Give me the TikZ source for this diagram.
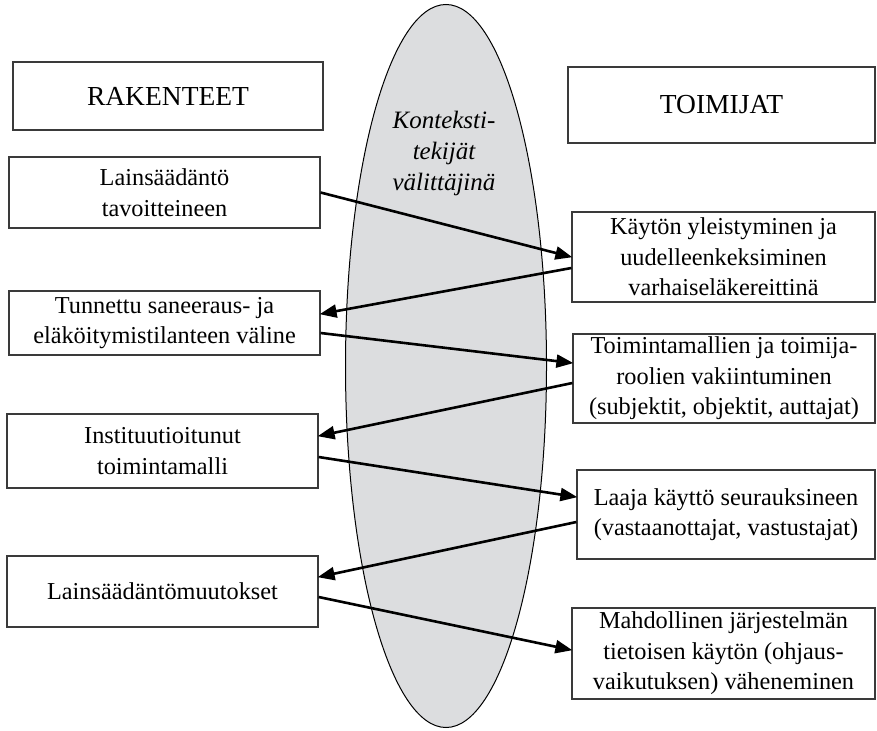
\documentclass[tikz,border=0pt]{standalone}
\usepackage{fontspec}
\setmainfont{Liberation Serif}
\usetikzlibrary{arrows.meta,shapes.geometric}
\definecolor{ellgray}{HTML}{DCDDDF}
\definecolor{boxline}{HTML}{3A3A3A}
\tikzset{
  box/.style={draw=boxline, line width=1.2pt, fill=white, align=center, inner sep=2pt,
    font=\fontsize{24.3}{30.5}\selectfont},
  headbox/.style={box, font=\fontsize{27.5}{30}\selectfont},
  conn/.style={line width=2.6pt, -{Triangle[length=17pt,width=13pt]}, shorten >=-1pt}
}
\begin{document}
\begin{tikzpicture}[x=1pt,y=-1pt]
\useasboundingbox (0,0) rectangle (877,730);
% ellipse
\node[draw=black, line width=1pt, fill=ellgray, ellipse, inner sep=0pt,
  minimum width=201pt, minimum height=723pt] (ell) at (446,366) {};
\node[align=center, font=\fontsize{25}{31}\selectfont\itshape] (ctx) at (444,153) {Konteksti-\\tekijät\\välittäjinä};
% left boxes
\node[headbox, minimum width=310pt, minimum height=68pt] (rak) at (168,96) {RAKENTEET};
\node[box, minimum width=311pt, minimum height=71pt] (l1) at (164.5,192.5) {Lainsäädäntö\\tavoitteineen};
\node[box, minimum width=311pt, minimum height=64pt] (l2) at (164.5,323) {Tunnettu saneeraus- ja\\eläköitymistilanteen väline};
\node[box, minimum width=311pt, minimum height=74pt] (l3) at (162.5,451) {Instituutioitunut\\toimintamalli};
\node[box, minimum width=311pt, minimum height=71pt] (l4) at (162.5,591.5) {Lainsäädäntömuutokset};
% right boxes
\node[headbox, minimum width=307pt, minimum height=76pt] (toi) at (721.5,105) {TOIMIJAT};
\node[box, minimum width=303pt, minimum height=90pt] (r1) at (723.5,257) {Käytön yleistyminen ja\\uudelleenkeksiminen\\varhaiseläkereittinä};
\node[box, minimum width=302pt, minimum height=89pt] (r2) at (724,378.5) {Toimintamallien ja toimija-\\roolien vakiintuminen\\(subjektit, objektit, auttajat)};
\node[box, minimum width=298pt, minimum height=89pt] (r3) at (726,514.5) {Laaja käyttö seurauksineen\\(vastaanottajat, vastustajat)};
\node[box, minimum width=303pt, minimum height=91pt] (r4) at (723.5,653.5) {Mahdollinen järjestelmän\\tietoisen käytön (ohjaus-\\vaikutuksen) väheneminen};
% connectors
\draw[conn] (l1.east) -- (r1.west);
\draw[conn] ([yshift=-11pt]r1.west) -- ([yshift=9pt]l2.east);
\draw[conn] ([yshift=-10pt]l2.east) -- ([yshift=15.5pt]r2.west);
\draw[conn] ([yshift=-4.5pt]r2.west) -- ([yshift=15pt]l3.east);
\draw[conn] ([yshift=-6pt]l3.east) -- ([yshift=17.5pt]r3.west);
\draw[conn] ([yshift=-7.5pt]r3.west) -- ([yshift=14.5pt]l4.east);
\draw[conn] ([yshift=-5.5pt]l4.east) -- ([yshift=3.5pt]r4.west);
\end{tikzpicture}
\end{document}
